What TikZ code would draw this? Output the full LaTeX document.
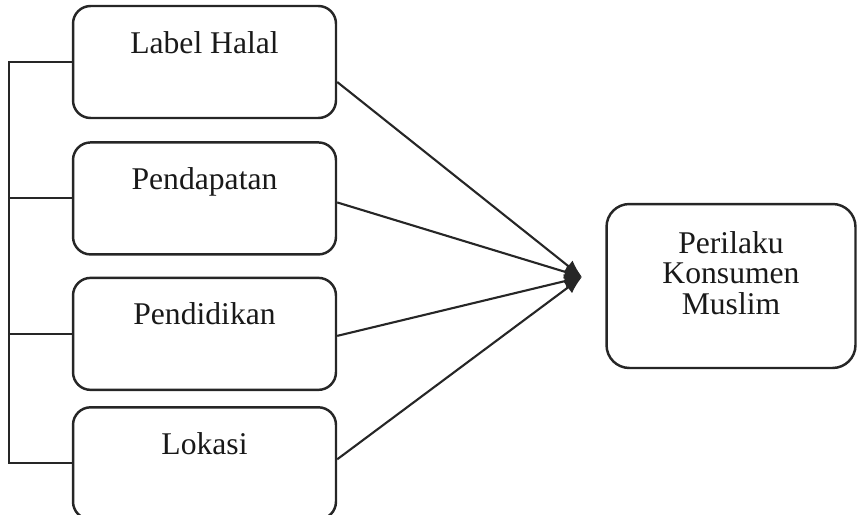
\documentclass[tikz,border=0pt]{standalone}
\usepackage{fontspec}
\setmainfont{Liberation Serif}
\usetikzlibrary{arrows.meta, positioning, calc}

\begin{document}
\begin{tikzpicture}[
    x=0.02cm, y=-0.02cm,
    every node/.style={font=\fontsize{18}{17.5}\selectfont, text=black!90},
    varbox/.style={draw=black!85, line width=1.4pt, rounded corners=10pt, minimum width=5.26cm, inner sep=0pt, text height=0.94cm, text depth=1.30cm},
    resultbox/.style={draw=black!85, line width=1.4pt, rounded corners=13pt, minimum width=4.98cm, minimum height=3.28cm},
    arr/.style={-{Latex[length=10pt, width=8pt]}, line width=1.2pt, color=black!85},
    rail/.style={line width=1.2pt, color=black!85},
]
\useasboundingbox (0,0) rectangle (857,514);

% Variabel bebas
\node[varbox] (halal) at (204.5,62) {Label Halal};
\node[varbox, below=0.44cm of halal] (pendapatan) {Pendapatan};
\node[varbox, below=0.42cm of pendapatan] (pendidikan) {Pendidikan};
\node[varbox, below=0.3cm of pendidikan] (lokasi) {Lokasi};

% Garis kiri
\coordinate (rail) at (9,0);
\draw[rail] (halal.west) -- (halal.west -| rail) -- (lokasi.west -| rail) -- (lokasi.west);
\foreach \n in {pendapatan, pendidikan} {
    \draw[rail] (\n.west) -- (\n.west -| rail);
}

% Variabel terikat
\node[resultbox] (perilaku) at (731,286) {};
\node[align=center, inner sep=0pt] (perilakutext) at ([yshift=0.26cm]perilaku.center) {Perilaku\\Konsumen\\Muslim};

% Panah
\coordinate (hub) at (582,277);
\foreach \n/\s in {halal/-0.4cm, pendapatan/-0.08cm, pendidikan/-0.04cm, lokasi/0.08cm} {
    \draw[arr] ([yshift=\s]\n.east) -- (hub);
}

\end{tikzpicture}
\end{document}
